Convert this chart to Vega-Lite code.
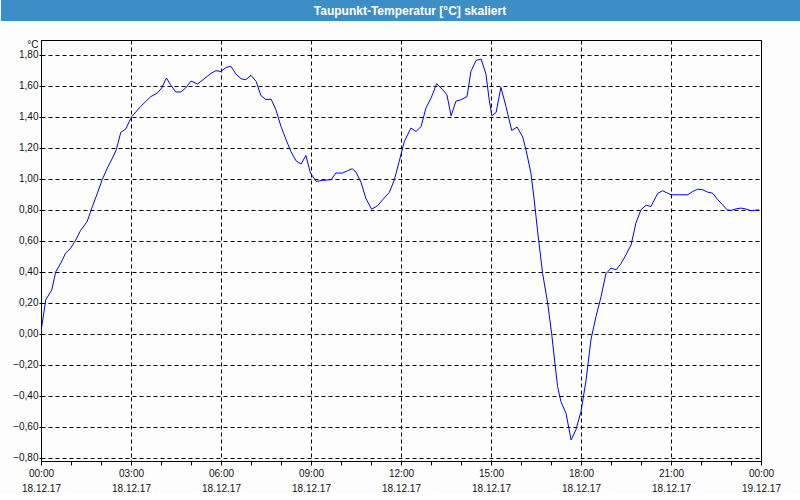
{
  "$schema": "https://vega.github.io/schema/vega-lite/v6.json",
  "background": "#fcfdfc",
  "padding": 0,
  "columns": 1,
  "spacing": 17,
  "config": {"font": "Liberation Sans"},
  "datasets": {
    "header": [{"title": "Taupunkt-Temperatur [°C] skaliert", "start": 0, "end": 1, "mid": 0.5}],
    "series": [
      {"hour": 0, "value": 0.015}, {"hour": 0.16, "value": 0.22}, {"hour": 0.36, "value": 0.284},
      {"hour": 0.49, "value": 0.40}, {"hour": 0.66, "value": 0.456}, {"hour": 0.82, "value": 0.52},
      {"hour": 0.99, "value": 0.553}, {"hour": 1.16, "value": 0.606}, {"hour": 1.32, "value": 0.667},
      {"hour": 1.54, "value": 0.725}, {"hour": 1.71, "value": 0.82}, {"hour": 1.88, "value": 0.907},
      {"hour": 2.04, "value": 0.994}, {"hour": 2.21, "value": 1.069}, {"hour": 2.38, "value": 1.133},
      {"hour": 2.51, "value": 1.187}, {"hour": 2.66, "value": 1.30}, {"hour": 2.82, "value": 1.32},
      {"hour": 3.02, "value": 1.40}, {"hour": 3.32, "value": 1.466}, {"hour": 3.66, "value": 1.53},
      {"hour": 3.88, "value": 1.553}, {"hour": 4.02, "value": 1.585}, {"hour": 4.18, "value": 1.65},
      {"hour": 4.32, "value": 1.606}, {"hour": 4.49, "value": 1.56}, {"hour": 4.66, "value": 1.56},
      {"hour": 4.82, "value": 1.585}, {"hour": 5.0, "value": 1.63}, {"hour": 5.22, "value": 1.611},
      {"hour": 5.44, "value": 1.645}, {"hour": 5.67, "value": 1.68}, {"hour": 5.83, "value": 1.697},
      {"hour": 6.0, "value": 1.692}, {"hour": 6.17, "value": 1.718}, {"hour": 6.33, "value": 1.725},
      {"hour": 6.5, "value": 1.675}, {"hour": 6.67, "value": 1.645}, {"hour": 6.83, "value": 1.639},
      {"hour": 7.0, "value": 1.667}, {"hour": 7.17, "value": 1.628}, {"hour": 7.33, "value": 1.537},
      {"hour": 7.5, "value": 1.51}, {"hour": 7.67, "value": 1.514}, {"hour": 7.83, "value": 1.445},
      {"hour": 8.0, "value": 1.337}, {"hour": 8.17, "value": 1.252}, {"hour": 8.33, "value": 1.176},
      {"hour": 8.5, "value": 1.116}, {"hour": 8.67, "value": 1.095}, {"hour": 8.83, "value": 1.15},
      {"hour": 8.98, "value": 1.037}, {"hour": 9.17, "value": 0.983}, {"hour": 9.39, "value": 0.99},
      {"hour": 9.67, "value": 0.994}, {"hour": 9.83, "value": 1.037}, {"hour": 10.06, "value": 1.037},
      {"hour": 10.22, "value": 1.052}, {"hour": 10.37, "value": 1.065}, {"hour": 10.5, "value": 1.043},
      {"hour": 10.67, "value": 0.975}, {"hour": 10.83, "value": 0.873}, {"hour": 11.02, "value": 0.804},
      {"hour": 11.22, "value": 0.826}, {"hour": 11.39, "value": 0.865}, {"hour": 11.61, "value": 0.912},
      {"hour": 11.78, "value": 0.994}, {"hour": 11.94, "value": 1.112}, {"hour": 12.11, "value": 1.24},
      {"hour": 12.33, "value": 1.327}, {"hour": 12.5, "value": 1.305}, {"hour": 12.67, "value": 1.337},
      {"hour": 12.83, "value": 1.456}, {"hour": 13.0, "value": 1.52}, {"hour": 13.19, "value": 1.613},
      {"hour": 13.39, "value": 1.574}, {"hour": 13.53, "value": 1.542}, {"hour": 13.67, "value": 1.406},
      {"hour": 13.83, "value": 1.50}, {"hour": 14.0, "value": 1.51}, {"hour": 14.2, "value": 1.53},
      {"hour": 14.33, "value": 1.692}, {"hour": 14.5, "value": 1.763}, {"hour": 14.67, "value": 1.772},
      {"hour": 14.83, "value": 1.677}, {"hour": 14.94, "value": 1.51}, {"hour": 15.03, "value": 1.406},
      {"hour": 15.17, "value": 1.428}, {"hour": 15.33, "value": 1.59}, {"hour": 15.5, "value": 1.466},
      {"hour": 15.69, "value": 1.312}, {"hour": 15.87, "value": 1.333}, {"hour": 16.06, "value": 1.269},
      {"hour": 16.19, "value": 1.166}, {"hour": 16.33, "value": 1.037}, {"hour": 16.44, "value": 0.865},
      {"hour": 16.56, "value": 0.65}, {"hour": 16.72, "value": 0.39}, {"hour": 16.89, "value": 0.198},
      {"hour": 17.02, "value": 0.004}, {"hour": 17.13, "value": -0.189}, {"hour": 17.22, "value": -0.34},
      {"hour": 17.33, "value": -0.437}, {"hour": 17.5, "value": -0.512}, {"hour": 17.67, "value": -0.684},
      {"hour": 17.83, "value": -0.619}, {"hour": 18.0, "value": -0.501}, {"hour": 18.17, "value": -0.297},
      {"hour": 18.33, "value": -0.039}, {"hour": 18.5, "value": 0.112}, {"hour": 18.67, "value": 0.241},
      {"hour": 18.83, "value": 0.387}, {"hour": 19.0, "value": 0.424}, {"hour": 19.17, "value": 0.413},
      {"hour": 19.33, "value": 0.452}, {"hour": 19.5, "value": 0.51}, {"hour": 19.67, "value": 0.574},
      {"hour": 19.83, "value": 0.714}, {"hour": 20.0, "value": 0.80}, {"hour": 20.17, "value": 0.83},
      {"hour": 20.33, "value": 0.821}, {"hour": 20.56, "value": 0.907}, {"hour": 20.72, "value": 0.923},
      {"hour": 20.89, "value": 0.907}, {"hour": 21.0, "value": 0.897}, {"hour": 21.28, "value": 0.897},
      {"hour": 21.56, "value": 0.897}, {"hour": 21.72, "value": 0.918}, {"hour": 21.89, "value": 0.933},
      {"hour": 22.06, "value": 0.929}, {"hour": 22.22, "value": 0.914}, {"hour": 22.39, "value": 0.907},
      {"hour": 22.56, "value": 0.865}, {"hour": 22.72, "value": 0.832}, {"hour": 22.87, "value": 0.80},
      {"hour": 23.0, "value": 0.796}, {"hour": 23.17, "value": 0.806}, {"hour": 23.33, "value": 0.811},
      {"hour": 23.5, "value": 0.805}, {"hour": 23.67, "value": 0.794}, {"hour": 23.83, "value": 0.798},
      {"hour": 23.93, "value": 0.80}
    ]
  },
  "concat": [
    {
      "width": 720,
      "height": 21,
      "view": {"stroke": null},
      "data": {"name": "header"},
      "layer": [
        {
          "mark": {"type": "rect", "color": "#3d8ec7", "clip": false},
          "encoding": {
            "x": {"field": "start", "type": "quantitative", "scale": {"domain": [0, 1], "range": [-40, 760]}, "axis": null},
            "x2": {"field": "end"}
          }
        },
        {
          "mark": {"type": "text", "color": "#ffffff", "fontSize": 12, "fontWeight": "bold", "dx": 9, "baseline": "middle", "align": "center"},
          "encoding": {
            "x": {"field": "mid", "type": "quantitative"},
            "text": {"field": "title", "type": "nominal"}
          }
        }
      ]
    },
    {
      "width": 720,
      "height": 421,
      "view": {"stroke": "#000000", "strokeWidth": 1, "fill": "#fcfdfc"},
      "data": {"name": "series"},
      "mark": {"type": "line", "color": "#0000ff", "strokeWidth": 1, "clip": true},
      "encoding": {
        "x": {
          "field": "hour", "type": "quantitative",
          "scale": {"domain": [0, 24], "nice": false, "zero": false},
          "axis": {
            "title": null,
            "values": [0,1,2,3,4,5,6,7,8,9,10,11,12,13,14,15,16,17,18,19,20,21,22,23,24],
            "labelExpr": "datum.value % 3 === 0 ? [(datum.value % 24 < 10 ? '0' : '') + (datum.value % 24) + ':00', datum.value === 24 ? '19.12.17' : '18.12.17'] : ''",
            "labelOverlap": false,
            "labelFlush": false,
            "labelFont": "Liberation Sans",
            "labelFontSize": 10,
            "labelColor": "#111111",
            "labelLineHeight": 15,
            "labelPadding": 3,
            "labelBaseline": "top",
            "tickSize": 4,
            "tickColor": "#000000",
            "domainColor": "#000000",
            "grid": true,
            "gridColor": "#000000",
            "gridDash": [4, 3],
            "gridOpacity": {"condition": {"test": "datum.value % 3 !== 0", "value": 0}, "value": 1}
          }
        },
        "y": {
          "field": "value", "type": "quantitative",
          "scale": {"domain": [-0.82, 1.895], "nice": false, "zero": false},
          "axis": {
            "title": "°C",
            "titleAngle": 0,
            "titleAlign": "right",
            "titleBaseline": "middle",
            "titleX": -3,
            "titleY": 4,
            "titleFont": "Liberation Sans",
            "titleFontSize": 10,
            "titleFontWeight": "normal",
            "titleColor": "#111111",
            "values": [-0.8, -0.6, -0.4, -0.2, 0, 0.2, 0.4, 0.6, 0.8, 1.0, 1.2, 1.4, 1.6, 1.8],
            "labelExpr": "replace(format(datum.value, '.2f'), '.', ',')",
            "labelOverlap": false,
            "labelFlush": false,
            "labelFont": "Liberation Sans",
            "labelFontSize": 10,
            "labelColor": "#111111",
            "labelPadding": 1,
            "tickSize": 2,
            "tickColor": "#000000",
            "domainColor": "#000000",
            "minExtent": 40,
            "maxExtent": 40,
            "grid": true,
            "gridColor": "#000000",
            "gridDash": [4, 3]
          }
        }
      }
    }
  ]
}
